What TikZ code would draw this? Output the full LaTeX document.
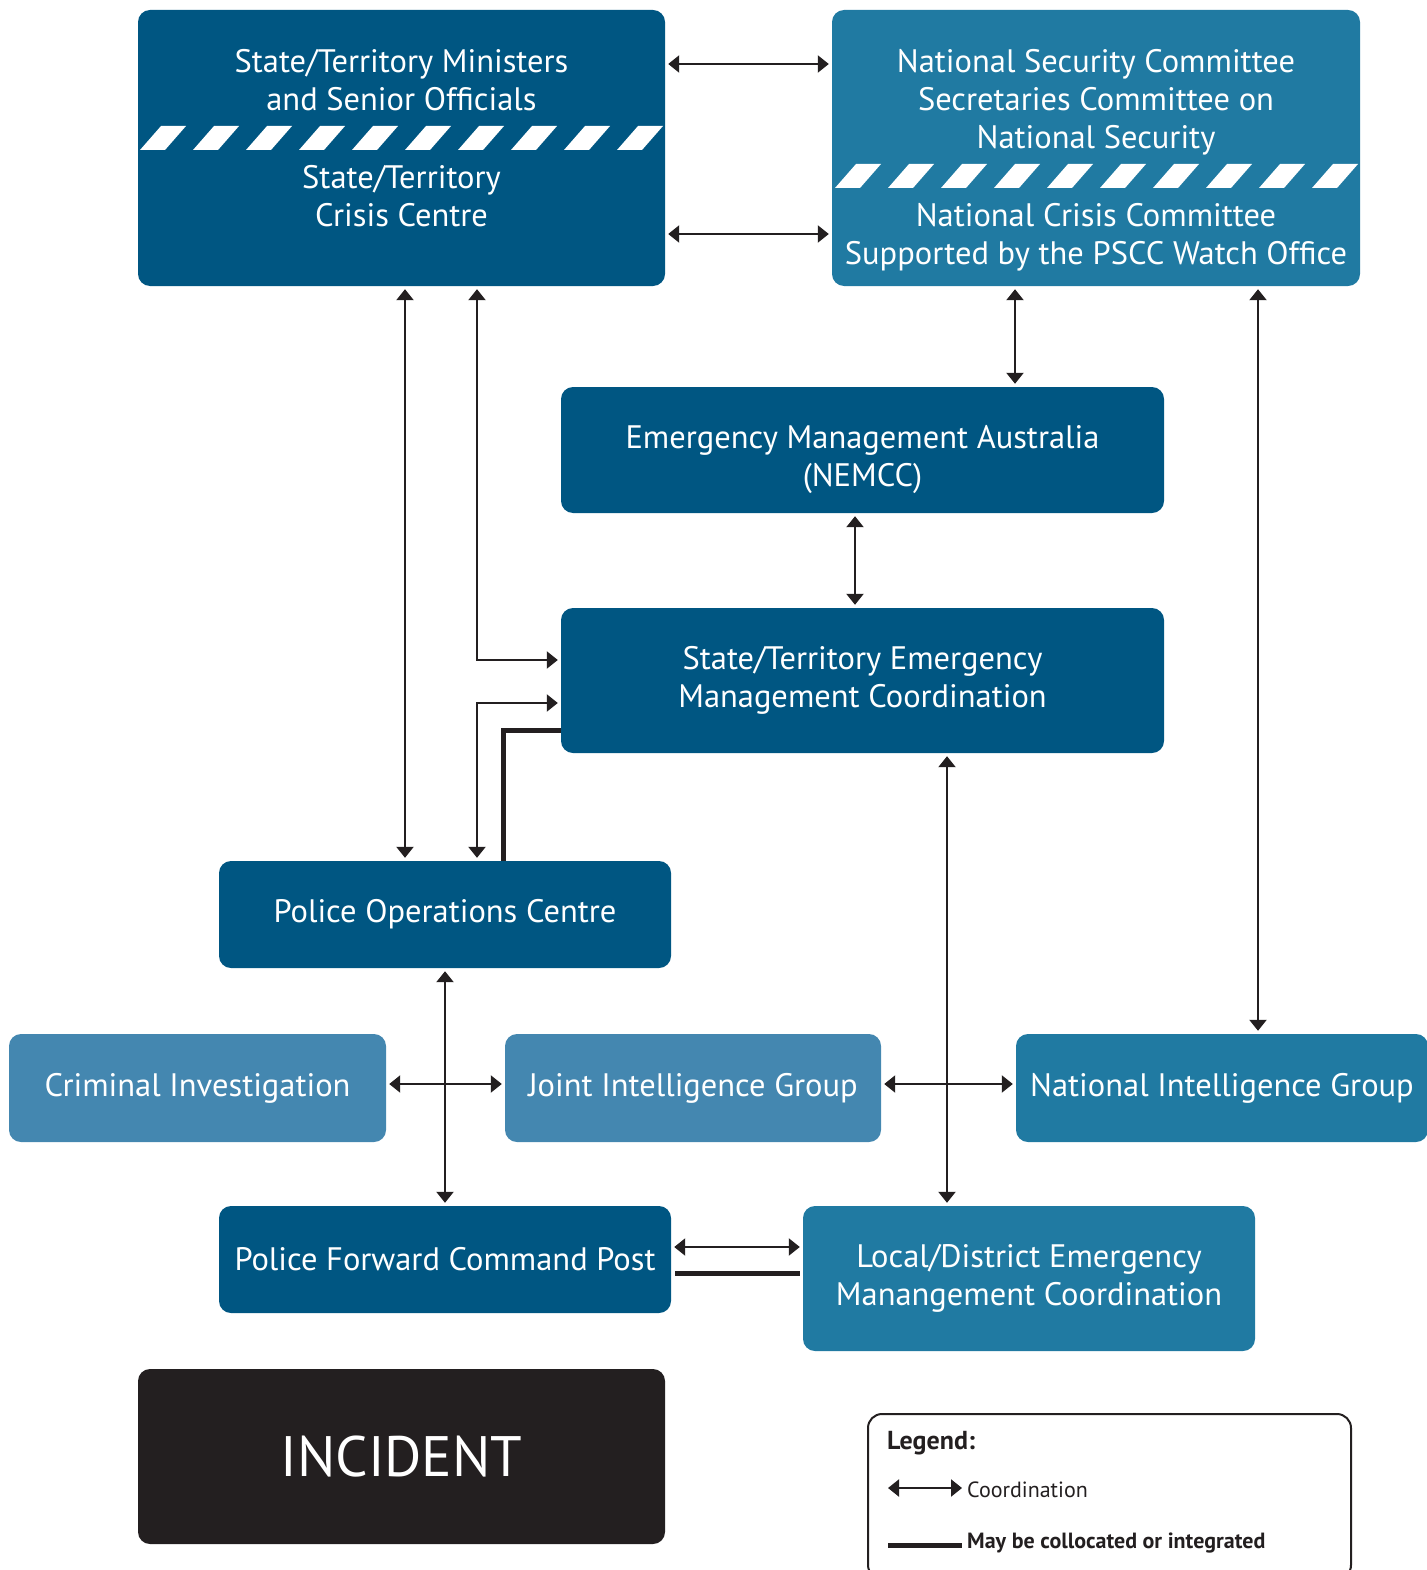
\documentclass[tikz,border=0pt]{standalone}
\usepackage{fontspec}
\setmainfont{PT Sans}
\usepackage{tikz}
\usetikzlibrary{arrows.meta}
\definecolor{dkblue}{RGB}{0,86,130}
\definecolor{mdblue}{RGB}{32,122,162}
\definecolor{ltblue}{RGB}{68,135,176}
\definecolor{ink}{RGB}{35,31,32}

\begin{document}
\begin{tikzpicture}[x=1pt,y=-1pt,
  box/.style={rounded corners=12pt, inner sep=0pt, text=white, align=center,
    font=\fontsize{32.5}{38}\selectfont},
  boxtext/.style={text=white, align=center, inner sep=0pt, font=\fontsize{32.5}{38}\selectfont},
  coord/.style={draw=ink, line width=2.2pt,
    {Triangle[length=11pt,width=17pt]}-{Triangle[length=11pt,width=17pt]},
    shorten <=3pt, shorten >=3pt},
  thickline/.style={draw=ink, line width=5pt}]
\useasboundingbox (0,0) rectangle (1426,1570);

% top level
\node[box, fill=dkblue, minimum width=527pt, minimum height=276pt] (stmin) at (401.5,148) {};
\node[boxtext] (stmintop) at (401.5,80) {State/Territory Ministers\\and Senior Officials};
\node[boxtext] (stminbot) at (401.5,196) {State/Territory\\Crisis Centre};
\node[box, fill=mdblue, minimum width=528pt, minimum height=276pt] (nsc) at (1096,148) {};
\node[boxtext] (nsctop) at (1096,102) {National Security Committee\\Secretaries Committee on\\National Security};
\node[boxtext] (nscbot) at (1096,237) {National Crisis Committee\\Supported by the PSCC Watch Office};
\foreach \i in {0,...,9}{
  \fill[white] ({140+53*\i},150) -- ++(25,0) -- ++(21,-24) -- ++(-25,0) -- cycle;
  \fill[white] ({835+53*\i},188) -- ++(25,0) -- ++(21,-24) -- ++(-25,0) -- cycle;
}

% middle
\node[box, fill=dkblue, minimum width=603pt, minimum height=126pt] (ema) at (862.5,450) {};
\node[boxtext] (ematext) at (862.5,460) {Emergency Management Australia\\(NEMCC)};
\node[box, fill=dkblue, minimum width=603pt, minimum height=145pt] (emc) at (862.5,680.5) {State/Territory Emergency\\Management Coordination};
\node[box, fill=dkblue, minimum width=452pt, minimum height=107pt] (poc) at (445,914.5) {Police Operations Centre};
\node[box, fill=ltblue, minimum width=377pt, minimum height=108pt] (ci) at (197.5,1088) {Criminal Investigation};
\node[box, fill=ltblue, minimum width=376pt, minimum height=108pt] (jig) at (693,1088) {Joint Intelligence Group};
\node[box, fill=mdblue, minimum width=412pt, minimum height=108pt] (nig) at (1222,1088) {National Intelligence Group};
\node[box, fill=dkblue, minimum width=452pt, minimum height=107pt] (pfcp) at (445,1259.5) {Police Forward Command Post};
\node[box, fill=mdblue, minimum width=452pt, minimum height=145pt] (ldem) at (1029,1278.5) {Local/District Emergency\\Manangement Coordination};
\node[box, fill=ink, minimum width=527pt, minimum height=175pt, font=\fontsize{57}{66}\selectfont] (incident) at (401.5,1456.5) {INCIDENT};

% connectors
\draw[coord] (stmin.east |- 0,64) -- (nsc.west |- 0,64);
\draw[coord] (stmin.east |- 0,234) -- (nsc.west |- 0,234);
\draw[coord] (stmin.south -| 405,0) -- (poc.north -| 405,0);
\draw[coord] (stmin.south -| 477,0) |- (emc.west |- 0,660);
\draw[coord] (poc.north -| 477,0) |- (emc.west |- 0,703);
\draw[thickline] (poc.north -| 503,0) |- (emc.west |- 0,730);
\draw[coord] (nsc.south -| 1015,0) -- (ema.north -| 1015,0);
\draw[coord] (nsc.south -| 1258,0) -- (nig.north -| 1258,0);
\draw[coord] (ema.south -| 855,0) -- (emc.north -| 855,0);
\draw[coord] (emc.south -| 947,0) -- (ldem.north -| 947,0);
\draw[coord] (poc.south) -- (pfcp.north);
\draw[coord] (ci.east |- 0,1084) -- (jig.west |- 0,1084);
\draw[coord] (jig.east |- 0,1084) -- (nig.west |- 0,1084);
\draw[coord] (pfcp.east |- 0,1247) -- (ldem.west |- 0,1247);
\draw[thickline, shorten <=4pt, shorten >=3pt] (pfcp.east |- 0,1273) -- (ldem.west |- 0,1273);

% legend
\node[draw=ink, line width=2pt, rounded corners=14pt, minimum width=483pt, minimum height=165pt, anchor=north west] (legend) at (867,1413) {};
\node[anchor=base west, inner sep=0pt, text=ink, font=\bfseries\fontsize{26}{30}\selectfont] (legtitle) at (887,1449) {Legend:};
\coordinate (legarrA) at (888,1488);
\coordinate (legarrB) at (962,1488);
\draw[coord, shorten <=0pt, shorten >=0pt] (legarrA) -- (legarrB);
\node[anchor=base west, inner sep=0pt, text=ink, font=\fontsize{22}{26}\selectfont] (legcoord) at (967,1497) {Coordination};
\coordinate (leglineA) at (888,1545);
\coordinate (leglineB) at (962,1545);
\draw[thickline] (leglineA) -- (leglineB);
\node[anchor=base west, inner sep=0pt, text=ink, font=\bfseries\fontsize{22}{26}\selectfont] (legcoll) at (967,1548) {May be collocated or integrated};
\end{tikzpicture}
\end{document}
